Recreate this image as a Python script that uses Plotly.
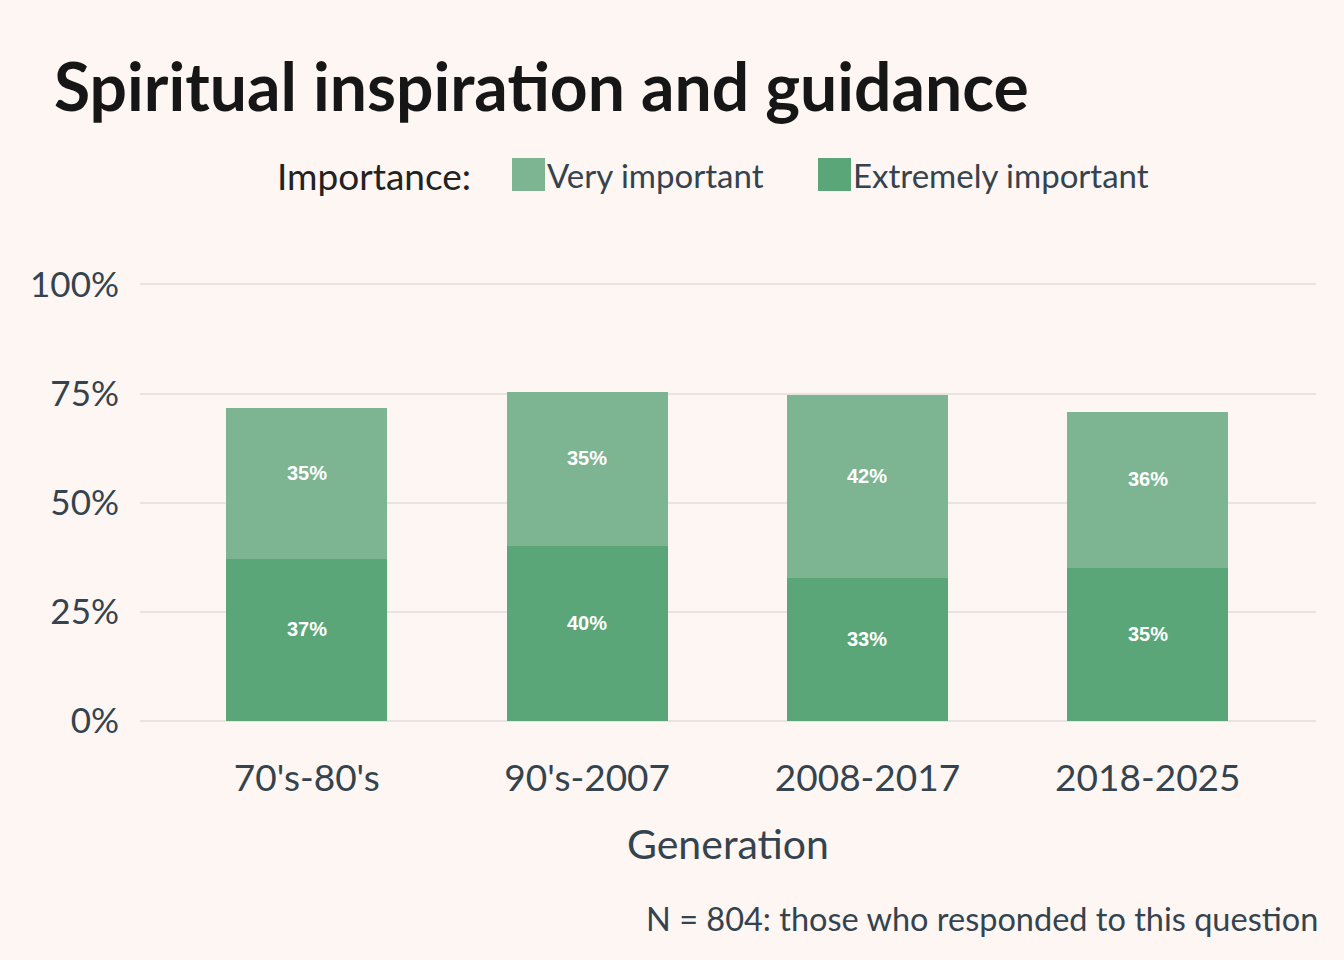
import plotly.graph_objects as go

categories = ["70's-80's", "90's-2007", "2008-2017", "2018-2025"]
extremely = [37.1, 40.0, 32.7, 35.0]
very = [34.6, 35.3, 41.9, 35.7]
series_names = ["Very important", "Extremely important"]
y_ticks = [0, 25, 50, 75, 100]
y_tick_labels = ["0%", "25%", "50%", "75%", "100%"]

BG = "#fdf6f3"
C_EXT = "#5aa678"
C_VERY = "#7db592"
TXT = "#34434d"
FONT = "Lato"

# plot area geometry (pixels)
PL, PR = 140, 1316
PT, PB = 280, 725
W, H = 1344, 960

def px_x(x):
    return (x - PL) / (PR - PL)

def px_y(y):
    return (PB - y) / (PB - PT)

fig = go.Figure()
fig.add_bar(x=categories, y=extremely, name=series_names[1], marker_color=C_EXT,
            marker_line_width=0, width=0.575, showlegend=False, hoverinfo="skip")
fig.add_bar(x=categories, y=very, name=series_names[0], marker_color=C_VERY,
            marker_line_width=0, width=0.575, showlegend=False, hoverinfo="skip")

lab_font = dict(family="Liberation Sans", size=20, color="white", weight="bold")
annotations = []
for c, e, v in zip(categories, extremely, very):
    annotations.append(dict(x=c, y=e / 2, text=f"{round(e)}%", showarrow=False, yshift=11, font=lab_font))
    annotations.append(dict(x=c, y=e + v / 2, text=f"{round(v)}%", showarrow=False, yshift=11, font=lab_font))

annotations.append(dict(xref="paper", yref="paper", x=px_x(52), y=px_y(85), xanchor="left",
                        yanchor="middle", text="<b>Spiritual inspiration and guidance</b>", showarrow=False,
                        font=dict(family=FONT, size=66, color="#161616")))

annotations.append(dict(xref="paper", yref="paper", x=px_x(275), y=px_y(175), xanchor="left", yanchor="middle",
                        text="Importance:", showarrow=False, font=dict(family=FONT, size=37, color="#222222")))
legend_items = [(series_names[0], C_VERY, 512), (series_names[1], C_EXT, 818)]
shapes = []
for name, col, x0 in legend_items:
    shapes.append(dict(type="rect", xref="paper", yref="paper", x0=px_x(x0), x1=px_x(x0 + 33),
                       y0=px_y(191), y1=px_y(158), fillcolor=col, line_width=0))
    annotations.append(dict(xref="paper", yref="paper", x=px_x(x0 + 33), y=px_y(175), xanchor="left",
                            yanchor="middle", text=name, showarrow=False,
                            font=dict(family=FONT, size=33, color=TXT)))

annotations.append(dict(xref="paper", yref="paper", x=px_x(1320), y=px_y(918), xanchor="right", yanchor="middle",
                        text="N = 804: those who responded to this question", showarrow=False,
                        font=dict(family=FONT, size=32.5, color=TXT)))

fig.update_layout(
    width=W, height=H,
    margin=dict(l=PL, r=W - PR, t=PT, b=H - PB),
    paper_bgcolor=BG, plot_bgcolor=BG,
    barmode="stack",
    annotations=annotations, shapes=shapes,
    xaxis=dict(range=[-0.595, 3.6], showgrid=False, showline=False, ticks="",
               tickfont=dict(family=FONT, size=37, color=TXT), ticklabelstandoff=28,
               title=dict(text="Generation", font=dict(family=FONT, size=41, color=TXT), standoff=32)),
    yaxis=dict(range=[-0.9, 101], tickvals=y_ticks, ticktext=y_tick_labels,
               showgrid=True, gridcolor="#e8e4e2", gridwidth=2,
               zeroline=True, zerolinecolor="#e8e4e2", zerolinewidth=2,
               tickfont=dict(family=FONT, size=35, color=TXT), ticklabelstandoff=20),
    showlegend=False,
)
fig.write_html("out.html")
